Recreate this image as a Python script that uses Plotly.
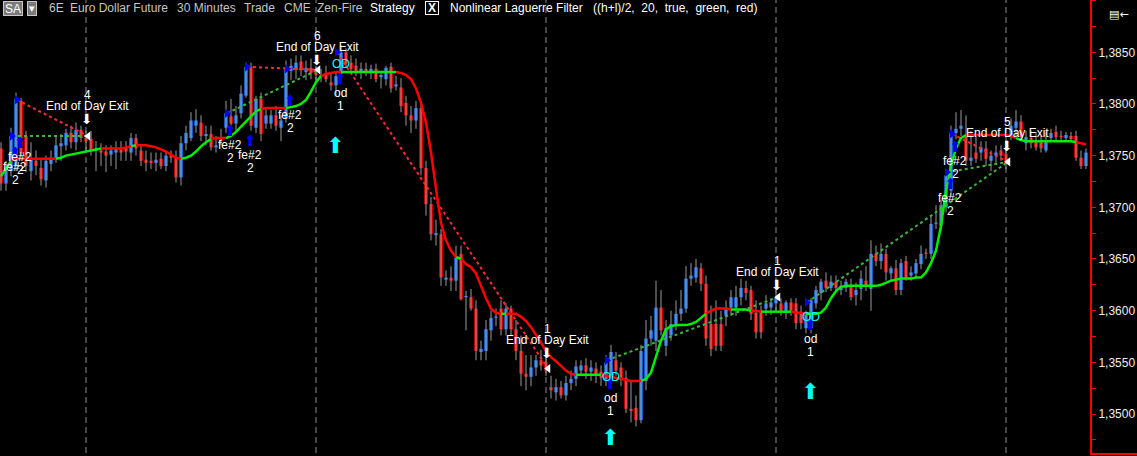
import plotly.graph_objects as go

# ---------------- data ----------------
opens = [
    1.3757, 1.3723, 1.3735, 1.3740, 1.3803, 1.3769, 1.3735, 1.3745, 1.3738, 1.3726,
    1.3742, 1.3747, 1.3759, 1.3760, 1.3772, 1.3763, 1.3775, 1.3767, 1.3766, 1.3755,
    1.3755, 1.3754, 1.3751, 1.3753, 1.3756, 1.3758, 1.3753, 1.3767, 1.3755, 1.3746,
    1.3745, 1.3743, 1.3747, 1.3740, 1.3750, 1.3748, 1.3729, 1.3762, 1.3767, 1.3779,
    1.3782, 1.3769, 1.3771, 1.3758, 1.3766, 1.3777, 1.3788, 1.3781, 1.3791, 1.3808,
    1.3836, 1.3777, 1.3805, 1.3781, 1.3781, 1.3789, 1.3777, 1.3786, 1.3832, 1.3834,
    1.3841, 1.3831, 1.3835, 1.3830, 1.3828, 1.3830, 1.3821, 1.3818, 1.3829, 1.3850,
    1.3840, 1.3837, 1.3832, 1.3834, 1.3831, 1.3834, 1.3826, 1.3824, 1.3836, 1.3817,
    1.3816, 1.3801, 1.3789, 1.3784, 1.3796, 1.3738, 1.3703, 1.3673, 1.3674, 1.3630,
    1.3632, 1.3629, 1.3655, 1.3613, 1.3613, 1.3602, 1.3560, 1.3561, 1.3581, 1.3593,
    1.3602, 1.3582, 1.3602, 1.3582, 1.3561, 1.3539, 1.3536, 1.3545, 1.3552, 1.3550,
    1.3526, 1.3521, 1.3526, 1.3518, 1.3530, 1.3534, 1.3542, 1.3547, 1.3541, 1.3544,
    1.3541, 1.3534, 1.3535, 1.3552, 1.3545, 1.3535, 1.3505, 1.3506, 1.3494, 1.3532,
    1.3573, 1.3571, 1.3603, 1.3566, 1.3576, 1.3585, 1.3597, 1.3602, 1.3631, 1.3632,
    1.3641, 1.3626, 1.3587, 1.3587, 1.3587, 1.3595, 1.3603, 1.3603, 1.3613, 1.3622,
    1.3620, 1.3598, 1.3598, 1.3602, 1.3603, 1.3607, 1.3607, 1.3598, 1.3608, 1.3607,
    1.3598, 1.3583, 1.3583, 1.3607, 1.3617, 1.3629, 1.3622, 1.3628, 1.3620, 1.3622,
    1.3624, 1.3615, 1.3621, 1.3629, 1.3621, 1.3655, 1.3648, 1.3655, 1.3636, 1.3641,
    1.3620, 1.3648, 1.3634, 1.3636, 1.3645, 1.3656, 1.3655, 1.3684, 1.3682, 1.3700,
    1.3716, 1.3772, 1.3776, 1.3769, 1.3745, 1.3753, 1.3753, 1.3757, 1.3745, 1.3750,
    1.3755, 1.3752, 1.3770, 1.3777, 1.3783, 1.3762, 1.3767, 1.3765, 1.3763, 1.3755,
    1.3767, 1.3773, 1.3769, 1.3767, 1.3769, 1.3769, 1.3748, 1.3740,
]
highs = [
    1.3763, 1.3745, 1.3777, 1.3811, 1.3806, 1.3774, 1.3763, 1.3755, 1.3747, 1.3750,
    1.3755, 1.3769, 1.3771, 1.3776, 1.3779, 1.3782, 1.3779, 1.3774, 1.3774, 1.3764,
    1.3762, 1.3760, 1.3760, 1.3764, 1.3764, 1.3764, 1.3772, 1.3771, 1.3760, 1.3755,
    1.3753, 1.3753, 1.3753, 1.3755, 1.3755, 1.3755, 1.3769, 1.3779, 1.3792, 1.3795,
    1.3789, 1.3779, 1.3779, 1.3769, 1.3776, 1.3803, 1.3805, 1.3798, 1.3818, 1.3840,
    1.3840, 1.3808, 1.3811, 1.3795, 1.3794, 1.3798, 1.3789, 1.3842, 1.3844, 1.3847,
    1.3847, 1.3842, 1.3844, 1.3837, 1.3834, 1.3837, 1.3830, 1.3832, 1.3857, 1.3854,
    1.3847, 1.3844, 1.3840, 1.3840, 1.3838, 1.3839, 1.3832, 1.3837, 1.3840, 1.3827,
    1.3825, 1.3808, 1.3798, 1.3803, 1.3803, 1.3745, 1.3710, 1.3688, 1.3679, 1.3639,
    1.3643, 1.3663, 1.3663, 1.3619, 1.3621, 1.3610, 1.3571, 1.3591, 1.3600, 1.3602,
    1.3610, 1.3607, 1.3605, 1.3591, 1.3576, 1.3557, 1.3557, 1.3557, 1.3562, 1.3557,
    1.3537, 1.3534, 1.3532, 1.3537, 1.3542, 1.3552, 1.3552, 1.3554, 1.3552, 1.3550,
    1.3547, 1.3557, 1.3567, 1.3560, 1.3550, 1.3542, 1.3532, 1.3518, 1.3567, 1.3591,
    1.3595, 1.3629, 1.3620, 1.3591, 1.3600, 1.3610, 1.3620, 1.3643, 1.3646, 1.3650,
    1.3646, 1.3634, 1.3605, 1.3610, 1.3600, 1.3610, 1.3620, 1.3624, 1.3631, 1.3629,
    1.3624, 1.3610, 1.3605, 1.3615, 1.3612, 1.3620, 1.3612, 1.3610, 1.3612, 1.3612,
    1.3605, 1.3600, 1.3612, 1.3624, 1.3631, 1.3637, 1.3634, 1.3634, 1.3629, 1.3631,
    1.3631, 1.3627, 1.3639, 1.3643, 1.3668, 1.3663, 1.3665, 1.3660, 1.3643, 1.3649,
    1.3650, 1.3653, 1.3643, 1.3650, 1.3663, 1.3660, 1.3692, 1.3702, 1.3707, 1.3735,
    1.3779, 1.3792, 1.3794, 1.3789, 1.3774, 1.3769, 1.3764, 1.3764, 1.3755, 1.3760,
    1.3760, 1.3757, 1.3786, 1.3794, 1.3789, 1.3774, 1.3774, 1.3773, 1.3769, 1.3773,
    1.3776, 1.3779, 1.3774, 1.3773, 1.3773, 1.3774, 1.3755, 1.3757,
]
lows = [
    1.3716, 1.3716, 1.3730, 1.3735, 1.3745, 1.3734, 1.3726, 1.3731, 1.3721, 1.3719,
    1.3735, 1.3743, 1.3745, 1.3755, 1.3757, 1.3755, 1.3763, 1.3755, 1.3750, 1.3735,
    1.3740, 1.3734, 1.3740, 1.3737, 1.3745, 1.3745, 1.3745, 1.3750, 1.3740, 1.3735,
    1.3737, 1.3735, 1.3737, 1.3735, 1.3743, 1.3724, 1.3721, 1.3755, 1.3764, 1.3772,
    1.3764, 1.3760, 1.3755, 1.3753, 1.3760, 1.3772, 1.3779, 1.3774, 1.3786, 1.3806,
    1.3774, 1.3772, 1.3764, 1.3776, 1.3776, 1.3774, 1.3764, 1.3782, 1.3823, 1.3824,
    1.3827, 1.3823, 1.3824, 1.3823, 1.3821, 1.3821, 1.3813, 1.3808, 1.3824, 1.3836,
    1.3830, 1.3827, 1.3824, 1.3827, 1.3824, 1.3821, 1.3815, 1.3818, 1.3811, 1.3813,
    1.3792, 1.3779, 1.3772, 1.3776, 1.3731, 1.3692, 1.3668, 1.3663, 1.3624, 1.3624,
    1.3619, 1.3619, 1.3610, 1.3581, 1.3600, 1.3552, 1.3552, 1.3552, 1.3571, 1.3585,
    1.3576, 1.3576, 1.3576, 1.3552, 1.3527, 1.3523, 1.3527, 1.3537, 1.3542, 1.3537,
    1.3515, 1.3513, 1.3515, 1.3513, 1.3523, 1.3527, 1.3537, 1.3534, 1.3532, 1.3530,
    1.3527, 1.3527, 1.3527, 1.3537, 1.3527, 1.3501, 1.3492, 1.3488, 1.3491, 1.3523,
    1.3566, 1.3561, 1.3576, 1.3556, 1.3571, 1.3581, 1.3590, 1.3598, 1.3624, 1.3627,
    1.3619, 1.3566, 1.3556, 1.3561, 1.3561, 1.3585, 1.3595, 1.3595, 1.3605, 1.3610,
    1.3591, 1.3573, 1.3573, 1.3595, 1.3596, 1.3600, 1.3595, 1.3592, 1.3595, 1.3582,
    1.3582, 1.3578, 1.3578, 1.3602, 1.3610, 1.3618, 1.3619, 1.3618, 1.3615, 1.3618,
    1.3610, 1.3605, 1.3610, 1.3619, 1.3600, 1.3643, 1.3640, 1.3629, 1.3629, 1.3615,
    1.3615, 1.3629, 1.3629, 1.3631, 1.3640, 1.3650, 1.3650, 1.3679, 1.3677, 1.3695,
    1.3711, 1.3766, 1.3769, 1.3740, 1.3740, 1.3743, 1.3745, 1.3740, 1.3735, 1.3743,
    1.3745, 1.3737, 1.3765, 1.3769, 1.3765, 1.3755, 1.3757, 1.3755, 1.3753, 1.3753,
    1.3763, 1.3765, 1.3763, 1.3763, 1.3763, 1.3745, 1.3737, 1.3737,
]
closes = [
    1.3723, 1.3738, 1.3769, 1.3805, 1.3752, 1.3740, 1.3747, 1.3740, 1.3727, 1.3745,
    1.3748, 1.3760, 1.3762, 1.3772, 1.3763, 1.3775, 1.3767, 1.3764, 1.3755, 1.3757,
    1.3753, 1.3750, 1.3755, 1.3756, 1.3753, 1.3754, 1.3767, 1.3757, 1.3745, 1.3743,
    1.3743, 1.3746, 1.3740, 1.3750, 1.3748, 1.3729, 1.3762, 1.3772, 1.3784, 1.3784,
    1.3769, 1.3771, 1.3758, 1.3760, 1.3764, 1.3791, 1.3781, 1.3789, 1.3810, 1.3836,
    1.3779, 1.3805, 1.3771, 1.3789, 1.3789, 1.3779, 1.3784, 1.3835, 1.3837, 1.3840,
    1.3834, 1.3835, 1.3830, 1.3828, 1.3827, 1.3824, 1.3818, 1.3827, 1.3850, 1.3839,
    1.3834, 1.3832, 1.3834, 1.3831, 1.3834, 1.3824, 1.3828, 1.3835, 1.3815, 1.3819,
    1.3798, 1.3789, 1.3784, 1.3796, 1.3738, 1.3703, 1.3674, 1.3675, 1.3632, 1.3632,
    1.3629, 1.3651, 1.3611, 1.3613, 1.3602, 1.3561, 1.3563, 1.3582, 1.3593, 1.3594,
    1.3582, 1.3602, 1.3582, 1.3561, 1.3539, 1.3536, 1.3545, 1.3552, 1.3547, 1.3542,
    1.3523, 1.3526, 1.3518, 1.3530, 1.3534, 1.3546, 1.3547, 1.3541, 1.3545, 1.3537,
    1.3535, 1.3550, 1.3560, 1.3542, 1.3534, 1.3505, 1.3503, 1.3494, 1.3561, 1.3573,
    1.3581, 1.3603, 1.3581, 1.3583, 1.3587, 1.3597, 1.3602, 1.3631, 1.3634, 1.3642,
    1.3626, 1.3573, 1.3563, 1.3566, 1.3566, 1.3602, 1.3613, 1.3613, 1.3622, 1.3617,
    1.3597, 1.3579, 1.3579, 1.3607, 1.3608, 1.3613, 1.3600, 1.3608, 1.3600, 1.3588,
    1.3588, 1.3597, 1.3610, 1.3620, 1.3628, 1.3622, 1.3628, 1.3622, 1.3624, 1.3628,
    1.3613, 1.3620, 1.3631, 1.3624, 1.3655, 1.3648, 1.3655, 1.3637, 1.3641, 1.3620,
    1.3646, 1.3632, 1.3637, 1.3646, 1.3655, 1.3655, 1.3684, 1.3685, 1.3702, 1.3731,
    1.3772, 1.3776, 1.3779, 1.3745, 1.3748, 1.3747, 1.3758, 1.3747, 1.3750, 1.3753,
    1.3750, 1.3742, 1.3779, 1.3783, 1.3768, 1.3768, 1.3762, 1.3758, 1.3757, 1.3765,
    1.3772, 1.3768, 1.3768, 1.3770, 1.3766, 1.3748, 1.3740, 1.3753,
]
# Nonlinear Laguerre Filter value per bar
laguerre = [
    1.3730, 1.3738, 1.3745, 1.3747, 1.3747, 1.3747, 1.3747, 1.3747, 1.3747, 1.3747,
    1.3747, 1.3747, 1.3748, 1.3750, 1.3751, 1.3752, 1.3753, 1.3754, 1.3755, 1.3756,
    1.3757, 1.3757, 1.3757, 1.3757, 1.3757, 1.3758, 1.3759, 1.3760, 1.3760, 1.3760,
    1.3759, 1.3758, 1.3756, 1.3754, 1.3751, 1.3748, 1.3747, 1.3748, 1.3750, 1.3754,
    1.3759, 1.3763, 1.3766, 1.3767, 1.3767, 1.3767, 1.3769, 1.3773, 1.3778, 1.3783,
    1.3788, 1.3793, 1.3795, 1.3796, 1.3796, 1.3796, 1.3796, 1.3796, 1.3797, 1.3798,
    1.3800, 1.3804, 1.3812, 1.3821, 1.3827, 1.3829, 1.3830, 1.3831, 1.3831, 1.3831,
    1.3831, 1.3831, 1.3831, 1.3831, 1.3831, 1.3831, 1.3831, 1.3831, 1.3831, 1.3831,
    1.3830, 1.3828, 1.3824, 1.3815, 1.3801, 1.3782, 1.3753, 1.3718, 1.3685, 1.3668,
    1.3658, 1.3652, 1.3650, 1.3645, 1.3642, 1.3636, 1.3624, 1.3612, 1.3602, 1.3598,
    1.3597, 1.3597, 1.3597, 1.3597, 1.3594, 1.3590, 1.3584, 1.3577, 1.3569, 1.3561,
    1.3555, 1.3551, 1.3546, 1.3542, 1.3539, 1.3538, 1.3538, 1.3538, 1.3538, 1.3538,
    1.3538, 1.3537, 1.3536, 1.3535, 1.3534, 1.3533, 1.3532, 1.3532, 1.3532, 1.3534,
    1.3540, 1.3555, 1.3571, 1.3582, 1.3585, 1.3586, 1.3586, 1.3586, 1.3587, 1.3589,
    1.3593, 1.3597, 1.3600, 1.3602, 1.3602, 1.3602, 1.3601, 1.3601, 1.3601, 1.3601,
    1.3600, 1.3600, 1.3599, 1.3599, 1.3599, 1.3599, 1.3599, 1.3599, 1.3599, 1.3598,
    1.3598, 1.3597, 1.3597, 1.3597, 1.3598, 1.3603, 1.3612, 1.3619, 1.3623, 1.3624,
    1.3624, 1.3624, 1.3624, 1.3624, 1.3624, 1.3624, 1.3625, 1.3627, 1.3629, 1.3630,
    1.3631, 1.3631, 1.3631, 1.3632, 1.3632, 1.3637, 1.3646, 1.3658, 1.3682, 1.3716,
    1.3740, 1.3757, 1.3767, 1.3770, 1.3770, 1.3770, 1.3770, 1.3770, 1.3770, 1.3770,
    1.3770, 1.3770, 1.3769, 1.3767, 1.3765, 1.3764, 1.3764, 1.3764, 1.3764, 1.3764,
    1.3764, 1.3764, 1.3764, 1.3764, 1.3764, 1.3763, 1.3762, 1.3761,
]
# filter colour state runs: (first bar, last bar, state)
laguerre_runs = [
    (0, 2, "up"), (2, 11, "dn"), (11, 20, "up"), (20, 26, "dn"), (26, 27, "up"),
    (27, 36, "dn"), (36, 42, "up"), (42, 45, "dn"), (45, 52, "up"), (52, 57, "dn"),
    (57, 64, "up"), (64, 68, "dn"), (68, 79, "up"), (79, 91, "dn"), (91, 92, "up"),
    (92, 100, "dn"), (100, 101, "up"), (101, 115, "dn"), (115, 120, "up"),
    (120, 128, "dn"), (128, 141, "up"), (141, 146, "dn"), (146, 150, "up"),
    (150, 152, "dn"), (152, 158, "up"), (158, 161, "dn"), (161, 193, "up"),
    (193, 203, "dn"), (203, 215, "up"), (215, 217, "dn"),
]
session_breaks = [17, 63, 109, 155, 201]

# exits
exit_bars = [17, 63, 109, 155, 201]
exit_prices = [1.3769, 1.3833, 1.3544, 1.3613, 1.3744]
exit_marker_prices = [1.3785, 1.3843, 1.3559, 1.3625, 1.3759]
exit_counts = ["4", "6", "1", "1", "5"]
exit_name = "End of Day Exit"

# entries
entry_bars = [2, 3, 45, 49, 57, 67, 121, 161, 189, 190]
entry_prices = [1.3769, 1.3804, 1.3791, 1.3836, 1.3834, 1.3850, 1.3552, 1.3608, 1.3734, 1.3771]
entry_marker_prices = [1.3753, 1.3762, 1.3774, 1.3764, 1.3803, 1.3824, 1.3529, 1.3586, 1.3723, 1.3758]
entry_signals = ["fe#2", "fe#2", "fe#2", "fe#2", "fe#2", "od", "od", "od", "fe#2", "fe#2"]
entry_qty = ["2", "2", "2", "2", "2", "1", "1", "1", "2", "2"]
entry_exit = [0, 0, 1, 1, 1, 2, 3, 4, 4, 4]

od_bars = [67, 121, 161]
od_prices = [1.3839, 1.3536, 1.3594]
cyan_bars = [66, 121, 161]
cyan_prices = [1.3760, 1.3477, 1.3522]

header_grey = [("6E", 47), ("Euro Dollar Future", 68), ("30 Minutes", 175), ("Trade", 242),
               ("CME", 282), ("Zen-Fire", 315)]
header_white = [("Strategy", 368), ("Nonlinear Laguerre Filter", 448),
                ("((h+l)/2,\u00a0 20,\u00a0 true,\u00a0 green,\u00a0 red)", 591)]
y_ticks = [1.3500, 1.3550, 1.3600, 1.3650, 1.3700, 1.3750, 1.3800, 1.3850]

# ---------------- style ----------------
BLUE_BODY = "#1E78FF"
RED = "#FF0000"
WICK = "#9A9A9A"
LIME = "#00EE00"
TRADE_GREEN = "#3DB53D"
TRADE_RED = "#FF2A2A"
MARK_BLUE = "#0000FF"
CYAN = "#00FFFF"
FONT = "Arial, Liberation Sans, sans-serif"
ARROW_FONT = "DejaVu Sans"
W, H = 1137, 456
PLOT_W = 1090          # width of price pane (price scale to its right)
MT, MB = 0, 3
PH = H - MT - MB
XD = PLOT_W / W        # x-domain end of price pane

n = len(closes)
bars = list(range(n))
fig = go.Figure()

# wicks
wx, wy = [], []
for i in bars:
    wx += [i, i, None]
    wy += [lows[i], highs[i], None]
fig.add_trace(go.Scatter(x=wx, y=wy, mode="lines", line=dict(color=WICK, width=1),
                         hoverinfo="skip"))

# bodies
MIN_BODY = 0.00012
for up, col in ((True, BLUE_BODY), (False, RED)):
    idx = [i for i in bars if (closes[i] >= opens[i]) == up]
    fig.add_trace(go.Bar(
        x=idx,
        y=[max(abs(closes[i] - opens[i]), MIN_BODY) for i in idx],
        base=[min(opens[i], closes[i]) for i in idx],
        width=0.7, marker=dict(color=col, line=dict(width=0)), hoverinfo="skip"))

# trade lines
for k, eb in enumerate(entry_bars):
    xi = entry_exit[k]
    ep, xp = entry_prices[k], exit_prices[xi]
    col = TRADE_GREEN if xp >= ep else TRADE_RED
    fig.add_trace(go.Scatter(x=[eb + 0.2, exit_bars[xi] + 0.4], y=[ep, xp], mode="lines",
                             line=dict(color=col, width=2, dash="dot"), hoverinfo="skip"))

# Laguerre filter
for state, col in (("up", LIME), ("dn", RED)):
    xs, ys = [], []
    for s, e, st in laguerre_runs:
        if st == state:
            xs += list(range(s, e + 1)) + [None]
            ys += laguerre[s:e + 1] + [None]
    fig.add_trace(go.Scatter(x=xs, y=ys, mode="lines", line=dict(color=col, width=2.5),
                             hoverinfo="skip", connectgaps=False))

# entry / exit triangles
fig.add_trace(go.Scatter(x=[b + 0.2 for b in entry_bars], y=entry_prices, mode="markers",
                         marker=dict(symbol="triangle-right", size=8, color=MARK_BLUE),
                         hoverinfo="skip"))
fig.add_trace(go.Scatter(x=[b + 0.45 for b in exit_bars], y=exit_prices, mode="markers",
                         marker=dict(symbol="triangle-left", size=8, color="white"),
                         hoverinfo="skip"))

# empty trace on the price-scale strip so its red base line gets drawn
fig.add_trace(go.Scatter(x=[None], y=[None], xaxis="x2", yaxis="y", mode="lines",
                         hoverinfo="skip"))

ann = []


def label(x, y, text, color="white", size=12, yshift=0, family=FONT, xref="x", yref="y",
          xanchor="center", **kw):
    ann.append(dict(x=x, y=y, xref=xref, yref=yref, text=text, showarrow=False,
                    font=dict(color=color, size=size, family=family), yshift=yshift,
                    xanchor=xanchor, yanchor="middle", **kw))


for k, eb in enumerate(entry_bars):
    x = eb + 0.8
    label(x, entry_marker_prices[k], "\u2B06", color=MARK_BLUE, size=15, family=ARROW_FONT)
    label(x, entry_marker_prices[k], entry_signals[k], yshift=-14)
    label(x, entry_marker_prices[k], entry_qty[k], yshift=-27)

for k, b in enumerate(od_bars):
    label(b + 0.9, od_prices[k], "OD", color=CYAN, size=12)

for k, b in enumerate(cyan_bars):
    label(b + 0.8, cyan_prices[k], "\u2B06", color=CYAN, size=22, family=ARROW_FONT)

for k, b in enumerate(exit_bars):
    x = b + 0.2
    label(x, exit_marker_prices[k], "\u2B07", color="white", size=14, family=ARROW_FONT)
    label(x, exit_marker_prices[k], exit_name, yshift=13)
    label(x, exit_marker_prices[k], exit_counts[k], yshift=24)

# header (paper now spans the full width)
hy = 1 - 8.5 / PH
label(12.5 / W, hy, "SA", xref="paper", yref="paper", size=12, bgcolor="#7A7A7A",
      bordercolor="#C8C8C8", borderwidth=1, borderpad=0, width=18, height=13)
label(31.5 / W, hy, "\u25BE", xref="paper", yref="paper", size=11, bgcolor="#7A7A7A",
      bordercolor="#C8C8C8", borderwidth=1, borderpad=0, width=8, height=13,
      family=ARROW_FONT)
for txt, px in header_grey:
    label(px / W, hy, txt, color="#C4C4C4", xref="paper", yref="paper", xanchor="left")
for txt, px in header_white:
    label(px / W, hy, txt, color="white", xref="paper", yref="paper", xanchor="left")
label(432 / W, hy, "<b>X</b>", xref="paper", yref="paper", size=12, bgcolor="black",
      bordercolor="white", borderwidth=1, borderpad=0, width=12, height=12)
label(1119 / W, 1 - 15 / PH, "\u25A4\u2190", xref="paper", yref="paper", size=11,
      family=ARROW_FONT)

shapes = [dict(type="line", xref="x", yref="paper", x0=b, x1=b, y0=0, y1=1,
               line=dict(color="#8A8A8A", width=1, dash="6px,4px"), layer="below")
          for b in session_breaks]

y_top = 1.3850 + 52.3 * 0.00009677
y_bot = 1.3500 - (PH - 414) * 0.00009677

fig.update_layout(
    width=W, height=H, margin=dict(l=0, r=0, t=MT, b=MB, pad=0),
    paper_bgcolor="black", plot_bgcolor="black", showlegend=False,
    barmode="overlay", separators=",.",
    annotations=ann, shapes=shapes,
    xaxis=dict(domain=[0, XD], range=[-0.2, n - 0.2], visible=False, showgrid=False,
               zeroline=False),
    xaxis2=dict(domain=[XD, 1], anchor="y", range=[0, 1], showgrid=False, zeroline=False,
                showticklabels=False, ticks="", showline=True, linecolor=RED, linewidth=2),
    yaxis=dict(range=[y_bot, y_top], side="right", anchor="x", showgrid=False,
               zeroline=False,
               tickvals=y_ticks, tickformat=".4f", ticks="outside", ticklen=4,
               tickcolor=RED, tickwidth=1, showline=True, linecolor=RED, linewidth=2,
               tickfont=dict(color="#EDEDED", size=12, family=FONT),
               minor=dict(dtick=0.0025, tick0=1.3475, ticks="outside", ticklen=4,
                          tickcolor=RED, tickwidth=1)),
)

fig.write_html("out.html", config={"displayModeBar": False, "staticPlot": True},
               post_script="document.body.style.margin='0';document.body.style.background='black';")
